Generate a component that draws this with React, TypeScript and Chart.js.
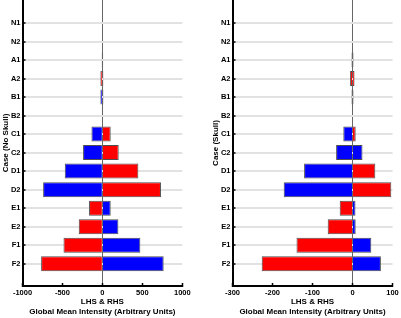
import React, { useEffect, useRef } from 'react';
import { Chart, registerables } from 'chart.js';

Chart.register(...registerables);

const categories = ['N1', 'N2', 'A1', 'A2', 'B1', 'B2', 'C1', 'C2', 'D1', 'D2', 'E1', 'E2', 'F1', 'F2'];

// Case (No Skull)
const noSkullLHS = [0, 0, -10, -25, -25, -8, -137, -242, -471, -742, -167, -296, -487, -767];
const noSkullRHS = [0, 0, 10, 12, 12, 8, 104, 204, 450, 733, 104, 200, 475, 767];
const noSkullTicks = [-1000, -500, 0, 500, 1000];

// Case (Skull)
const skullLHS = [0, 0, -2.5, -6, -2.5, 0, -23, -41, -121, -172, -32, -62, -140, -227];
const skullRHS = [0, 0, 2.5, 5, 2.5, 0, 8, 25, 57, 97, 7.5, 8, 47, 71];
const skullTicks = [-300, -200, -100, 0, 100];

const B = '#0000ff';
const R = '#ff0000';
const G = '#4d4d4d';
const noSkullLHSColors = [G, G, G, R, B, G, B, B, B, B, R, R, R, R];
const noSkullRHSColors = [G, G, G, R, B, G, R, R, R, R, B, B, B, B];
const skullLHSColors = [G, G, G, R, G, G, B, B, B, B, R, R, R, R];
const skullRHSColors = [G, G, G, R, G, G, R, B, R, R, B, B, B, B];

const FONT = "'Liberation Sans', Arial, sans-serif";

function makeConfig(lhs: number[], rhs: number[], lhsColors: string[], rhsColors: string[], ticks: number[], yTitle: string, rightPad: number): any {
  const ds = (vals: number[], colors: string[], label: string) => ({
    label,
    data: vals.map((v, i) => ({ x: v, y: i })),
    backgroundColor: colors,
    borderColor: '#4d4d4d',
    borderWidth: 1,
    grouped: false,
    barPercentage: 0.9,
    categoryPercentage: 0.9,
  });
  return {
    type: 'bar',
    data: { datasets: [ds(lhs, lhsColors, 'LHS'), ds(rhs, rhsColors, 'RHS')] },
    options: {
      indexAxis: 'y',
      responsive: false,
      animation: false,
      layout: { padding: { left: 0, right: rightPad, top: 0, bottom: 0 } },
      plugins: { legend: { display: false }, tooltip: { enabled: false } },
      scales: {
        x: {
          type: 'linear',
          bounds: 'data',
          offset: false,
          min: ticks[0],
          max: ticks[ticks.length - 1],
          afterBuildTicks: (s: any) => { s.ticks = ticks.map((v) => ({ value: v })); },
          afterFit: (s: any) => { s.height = 32; s.paddingLeft = 0; s.paddingRight = 0; },
          grid: {
            offset: false,
            color: (c: any) => (c.tick && c.tick.value === 0 ? '#666666' : 'rgba(0,0,0,0)'),
            lineWidth: 1,
            tickColor: '#000',
            tickWidth: 1.5,
            tickLength: -3,
          },
          border: { color: '#000', width: 2 },
          ticks: {
            callback: (v: any) => String(v),
            font: { family: FONT, size: 7.5, weight: 'bold' },
            color: '#000',
            padding: 5,
            maxRotation: 0,
            autoSkip: false,
          },
          title: {
            display: true,
            text: ['LHS & RHS', 'Global Mean Intensity (Arbitrary Units)'],
            font: { family: FONT, size: 8, weight: 'bold', lineHeight: 1.25 },
            color: '#000',
            padding: { top: 0, bottom: 1 },
          },
        },
        y: {
          type: 'linear',
          bounds: 'data',
          offset: false,
          reverse: true,
          min: -1.242,
          max: 14.205,
          afterBuildTicks: (s: any) => { s.ticks = categories.map((_, i) => ({ value: i })); },
          afterFit: (s: any) => { s.width = 22.5; s.paddingTop = 0; s.paddingBottom = 0; },
          grid: { offset: false, color: '#e2e2e2', lineWidth: 2, tickColor: '#000', tickWidth: 1.5, tickLength: -3 },
          border: { color: '#000', width: 2 },
          ticks: {
            callback: (v: any) => categories[v] ?? '',
            font: { family: FONT, size: 7.5, weight: 'bold' },
            color: '#000',
            padding: 5,
            autoSkip: false,
          },
          title: {
            display: true,
            text: yTitle,
            font: { family: FONT, size: 8, weight: 'bold', lineHeight: 1.25 },
            color: '#000',
            padding: { top: 1, bottom: 0 },
          },
        },
      },
    },
  };
}

function Panel(props: { left: number; width: number; config: any }) {
  const ref = useRef<HTMLCanvasElement>(null);
  useEffect(() => {
    if (!ref.current) return;
    const chart = new Chart(ref.current, props.config);
    return () => chart.destroy();
  }, []);
  return (
    <canvas
      ref={ref}
      width={props.width}
      height={318}
      style={{ position: 'absolute', left: props.left, top: 0, width: props.width, height: 318 }}
    />
  );
}

export default function App() {
  return (
    <div style={{ position: 'absolute', left: 0, top: 0, width: 401, height: 318, background: '#fff' }}>
      <Panel
        left={0}
        width={200}
        config={makeConfig(noSkullLHS, noSkullRHS, noSkullLHSColors, noSkullRHSColors, noSkullTicks, 'Case (No Skull)', 17.7)}
      />
      <Panel
        left={210}
        width={191}
        config={makeConfig(skullLHS, skullRHS, skullLHSColors, skullRHSColors, skullTicks, 'Case (Skull)', 8.5)}
      />
    </div>
  );
}
